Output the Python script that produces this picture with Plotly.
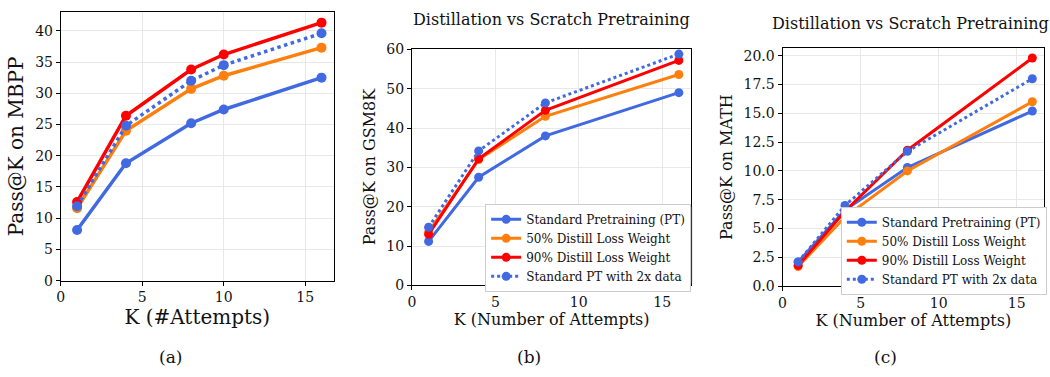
import plotly.graph_objects as go

# ---------------- data ----------------
k_mbpp = [1, 4, 8, 10, 16]
mbpp_std = [8.1, 18.8, 25.2, 27.4, 32.5]
mbpp_50 = [11.6, 24.0, 30.7, 32.8, 37.3]
mbpp_90 = [12.6, 26.4, 33.8, 36.2, 41.3]
mbpp_2x = [11.9, 24.8, 32.0, 34.5, 39.6]

k_gsm = [1, 4, 8, 16]
gsm_std = [11.2, 27.5, 38.0, 49.0]
gsm_50 = [13.6, 32.0, 43.0, 53.6]
gsm_90 = [13.0, 32.2, 44.5, 57.2]
gsm_2x = [14.8, 34.2, 46.4, 58.8]

k_math = [1, 4, 8, 16]
math_std = [2.1, 6.6, 10.3, 15.2]
math_50 = [1.7, 6.0, 10.0, 16.0]
math_90 = [1.8, 6.5, 11.8, 19.8]
math_2x = [2.1, 7.0, 11.7, 18.0]

series_names = ["Standard Pretraining (PT)", "50% Distill Loss Weight",
                "90% Distill Loss Weight", "Standard PT with 2x data"]
series_colors = ["#4169E1", "#FF7F0E", "#FF0000", "#4169E1"]
series_dash = ["solid", "solid", "solid", "dot"]

title_text = "Distillation vs Scratch Pretraining"
panel_labels = ["(a)", "(b)", "(c)"]

FONT = "DejaVu Serif"
TXT = "#111111"

fig = go.Figure()

panels = [
    (k_mbpp, [mbpp_std, mbpp_50, mbpp_90, mbpp_2x], "x", "y", None, 3.5, 10),
    (k_gsm, [gsm_std, gsm_50, gsm_90, gsm_2x], "x2", "y2", "legend", 3, 9),
    (k_math, [math_std, math_50, math_90, math_2x], "x3", "y3", "legend2", 3, 9),
]

for ks, ys, xa, ya, leg, lw, ms in panels:
    for name, vals, col, dash in zip(series_names, ys, series_colors, series_dash):
        kw = dict(x=ks, y=vals, name=name, xaxis=xa, yaxis=ya, mode="lines+markers",
                  line=dict(color=col, width=lw, dash=dash),
                  marker=dict(color=col, size=ms))
        if leg is None:
            kw["showlegend"] = False
        else:
            kw["legend"] = leg
        fig.add_trace(go.Scatter(**kw))

axis_common = dict(showline=True, linecolor="black", linewidth=1, mirror=True,
                   ticks="outside", ticklen=4, tickcolor="black",
                   showgrid=True, gridcolor="#E8E8E8", gridwidth=1, zeroline=False,
                   tickfont=dict(family=FONT, size=14, color=TXT))

W, H = 1050, 377
def px(x):
    return x / W
def py(y):
    return 1 - y / H

fig.update_layout(
    width=W, height=H, margin=dict(l=0, r=0, t=0, b=0),
    paper_bgcolor="white", plot_bgcolor="white",
    font=dict(family=FONT, color=TXT),
    xaxis=dict(domain=[px(57), px(331)], range=[0, 16.75], dtick=5, anchor="y",
               title=dict(text="K (#Attempts)", font=dict(size=20), standoff=4), **axis_common),
    yaxis=dict(domain=[py(285), py(5.5)], range=[0, 42.96], dtick=5, anchor="x",
               title=dict(text="Pass@K on MBPP", font=dict(size=20), standoff=6), **axis_common),
    xaxis2=dict(domain=[px(409.5), px(690)], range=[0, 16.75], dtick=5, anchor="y2",
                title=dict(text="K (Number of Attempts)", font=dict(size=16), standoff=4), **axis_common),
    yaxis2=dict(domain=[py(290), py(43.3)], range=[0, 60.2], dtick=10, anchor="x2",
                title=dict(text="Pass@K on GSM8K", font=dict(size=16), standoff=6), **axis_common),
    xaxis3=dict(domain=[px(781.5), px(1044)], range=[0, 16.75], dtick=5, anchor="y3",
                title=dict(text="K (Number of Attempts)", font=dict(size=16), standoff=4), **axis_common),
    yaxis3=dict(domain=[py(290.7), py(42.7)], range=[0, 20.67], dtick=2.5, tickformat=".1f", anchor="x3",
                title=dict(text="Pass@K on MATH", font=dict(size=16), standoff=6), **axis_common),
    legend=dict(x=px(483), y=py(205), xanchor="left", yanchor="top",
                bgcolor="white", bordercolor="#CCCCCC", borderwidth=1,
                font=dict(family=FONT, size=12), tracegroupgap=0, itemwidth=30),
    legend2=dict(x=px(840), y=py(208), xanchor="left", yanchor="top",
                 bgcolor="white", bordercolor="#CCCCCC", borderwidth=1,
                 font=dict(family=FONT, size=12), tracegroupgap=0, itemwidth=30),
)

# legend shadows (approximate matplotlib shadow)
for (x0, y0, x1, y1) in [(486, 208, 691, 288), (843, 211, 1044, 291)]:
    fig.add_shape(type="rect", xref="paper", yref="paper",
                  x0=px(x0), x1=px(x1), y0=py(y1), y1=py(y0),
                  line=dict(width=0), fillcolor="rgba(120,120,120,0.45)", layer="above")

# titles
fig.add_annotation(text=title_text, x=px(550), y=py(13), xref="paper", yref="paper",
                   showarrow=False, font=dict(family=FONT, size=16, color=TXT),
                   xanchor="center", yanchor="middle")
fig.add_annotation(text=title_text, x=px(910), y=py(17), xref="paper", yref="paper",
                   showarrow=False, font=dict(family=FONT, size=16, color=TXT),
                   xanchor="center", yanchor="middle")

# panel labels
for lbl, xc in zip(panel_labels, [167, 527, 885]):
    fig.add_annotation(text=lbl, x=px(xc), y=py(365), xref="paper", yref="paper",
                       showarrow=False, font=dict(family=FONT, size=17, color=TXT),
                       xanchor="center", yanchor="middle")

fig.write_html("out.html")
